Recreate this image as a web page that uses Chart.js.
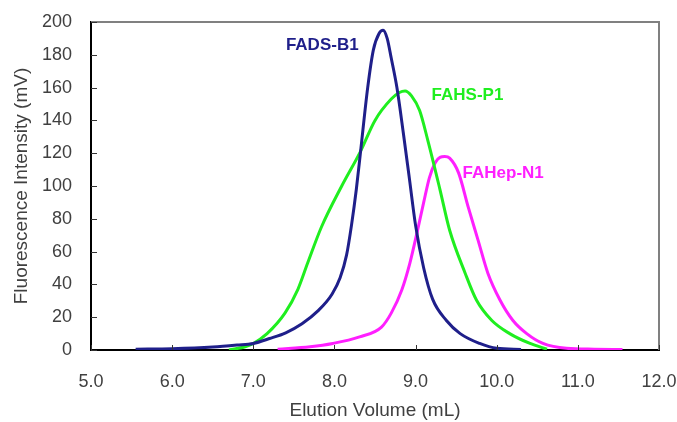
<!DOCTYPE html>
<html lang="en">
<head>
  <meta charset="UTF-8">
  <title>Elution Profiles</title>
  <script src="https://cdn.jsdelivr.net/npm/chart.js"></script>
  <style>
    body {
      margin: 0;
      padding: 0;
      background-color: #fff;
    }
    .chart-container {
      width: 677px;
      height: 422px;
    }
  </style>
</head>
<body>
  <div class="chart-container">
    <canvas id="elutionChart"></canvas>
  </div>

  <script>
    // FADS-B1 (navy)
    const fadsX = [5.55, 6.0, 6.5, 6.8, 7.0, 7.2, 7.4, 7.6, 7.8, 7.97, 8.07, 8.15, 8.21, 8.27, 8.32, 8.41, 8.48, 8.55, 8.6, 8.65, 8.7, 8.77, 8.85, 8.92, 9.0, 9.1, 9.21, 9.38, 9.55, 9.79, 10.0, 10.3];
    const fadsY = [0.5, 0.8, 1.8, 3, 4, 7, 10.5, 16, 24, 34, 44, 58, 76, 98, 120, 160, 183, 193, 195, 190, 178, 160, 132, 106, 76, 50, 31, 18, 10, 4, 1, 0.3];

    // FAHS-P1 (green)
    const fahsX = [6.7, 6.9, 7.0, 7.17, 7.39, 7.55, 7.67, 7.84, 8.09, 8.32, 8.5, 8.7, 8.8, 8.87, 8.95, 9.05, 9.15, 9.3, 9.42, 9.61, 9.75, 9.94, 10.16, 10.41, 10.62];
    const fahsY = [0, 2, 4, 10, 22.5, 37, 53, 75, 100, 121, 140, 153, 157, 158, 155, 146, 128, 98, 73, 47, 30.5, 18, 10, 4, 0.5];

    // FAHep-N1 (magenta)
    const fahepX = [7.3, 7.7, 7.98, 8.31, 8.58, 8.7, 8.83, 8.93, 9.02, 9.1, 9.17, 9.24, 9.3, 9.36, 9.42, 9.53, 9.65, 9.77, 9.89, 10.04, 10.2, 10.37, 10.57, 10.86, 11.2, 11.55];
    const fahepY = [0.5, 2, 4, 8, 14, 22.5, 36.6, 53, 72, 90, 105, 114, 117.5, 118, 117, 108, 87, 67, 47, 30.5, 18, 10, 4, 1, 0.5, 0.3];

    const seriesNames = ['FADS-B1', 'FAHS-P1', 'FAHep-N1'];
    const seriesColors = ['#1f1f8a', '#1fee1f', '#ff1fff'];
    // label anchor points in data units (mL, mV)
    const labelX = [7.85, 9.64, 10.08];
    const labelY = [186, 155.5, 108];

    function toPoints(xs, ys) {
      return xs.map((x, i) => ({ x: x, y: ys[i] }));
    }

    // Inner tick marks, gray top/right frame and curve labels
    const framePlugin = {
      id: 'frame',
      afterDraw(chart) {
        const ctx = chart.ctx;
        const area = chart.chartArea;
        const xs = chart.scales.x;
        const ys = chart.scales.y;
        ctx.save();
        ctx.strokeStyle = '#808080';
        ctx.lineWidth = 2;
        ctx.beginPath();
        ctx.moveTo(area.left, area.top);
        ctx.lineTo(area.right, area.top);
        ctx.lineTo(area.right, area.bottom);
        ctx.stroke();

        ctx.strokeStyle = '#333';
        ctx.lineWidth = 1;
        ys.ticks.forEach(t => {
          const py = Math.round(ys.getPixelForValue(t.value)) + 0.5;
          ctx.beginPath();
          ctx.moveTo(area.left, py);
          ctx.lineTo(area.left + 6, py);
          ctx.stroke();
        });
        xs.ticks.forEach(t => {
          const px = Math.round(xs.getPixelForValue(t.value)) + 0.5;
          ctx.beginPath();
          ctx.moveTo(px, area.bottom);
          ctx.lineTo(px, area.bottom - 5);
          ctx.stroke();
        });

        ctx.font = 'bold 17px "Liberation Sans", Arial, sans-serif';
        ctx.textAlign = 'center';
        ctx.textBaseline = 'middle';
        seriesNames.forEach((name, i) => {
          ctx.fillStyle = seriesColors[i];
          ctx.fillText(name, xs.getPixelForValue(labelX[i]), ys.getPixelForValue(labelY[i]));
        });
        ctx.restore();
      }
    };

    const ctx = document.getElementById('elutionChart').getContext('2d');
    const elutionChart = new Chart(ctx, {
      type: 'line',
      data: {
        datasets: [
          { label: seriesNames[0], data: toPoints(fadsX, fadsY), borderColor: seriesColors[0] },
          { label: seriesNames[1], data: toPoints(fahsX, fahsY), borderColor: seriesColors[1] },
          { label: seriesNames[2], data: toPoints(fahepX, fahepY), borderColor: seriesColors[2] }
        ]
      },
      options: {
        responsive: true,
        maintainAspectRatio: false,
        animation: false,
        layout: { padding: { left: 0, right: 18, top: 22, bottom: 0 } },
        elements: {
          line: { borderWidth: 3, cubicInterpolationMode: 'monotone', fill: false },
          point: { radius: 0 }
        },
        plugins: {
          legend: { display: false },
          tooltip: { enabled: false }
        },
        scales: {
          x: {
            type: 'linear',
            min: 5,
            max: 12,
            afterFit: s => { s.height = 72; s.paddingLeft = 0; s.paddingRight = 0; },
            grid: { display: false, drawTicks: false },
            border: { display: true, color: '#000', width: 2 },
            ticks: {
              stepSize: 1,
              padding: 21,
              color: '#404040',
              font: { family: '"Liberation Sans", Arial, sans-serif', size: 18 },
              callback: v => v.toFixed(1)
            },
            title: {
              display: true,
              text: 'Elution Volume (mL)',
              color: '#404040',
              padding: { top: 0, bottom: 0 },
              font: { family: '"Liberation Sans", Arial, sans-serif', size: 19 }
            }
          },
          y: {
            min: 0,
            max: 200,
            afterFit: s => { s.width = 91; s.paddingTop = 0; s.paddingBottom = 0; },
            grid: { display: false, drawTicks: false },
            border: { display: true, color: '#000', width: 2 },
            ticks: {
              stepSize: 20,
              padding: 19,
              color: '#404040',
              font: { family: '"Liberation Sans", Arial, sans-serif', size: 18 }
            },
            title: {
              display: true,
              text: 'Fluorescence Intensity (mV)',
              color: '#404040',
              padding: { top: 10, bottom: 0 },
              font: { family: '"Liberation Sans", Arial, sans-serif', size: 19 }
            }
          }
        }
      },
      plugins: [framePlugin]
    });
  </script>
</body>
</html>
